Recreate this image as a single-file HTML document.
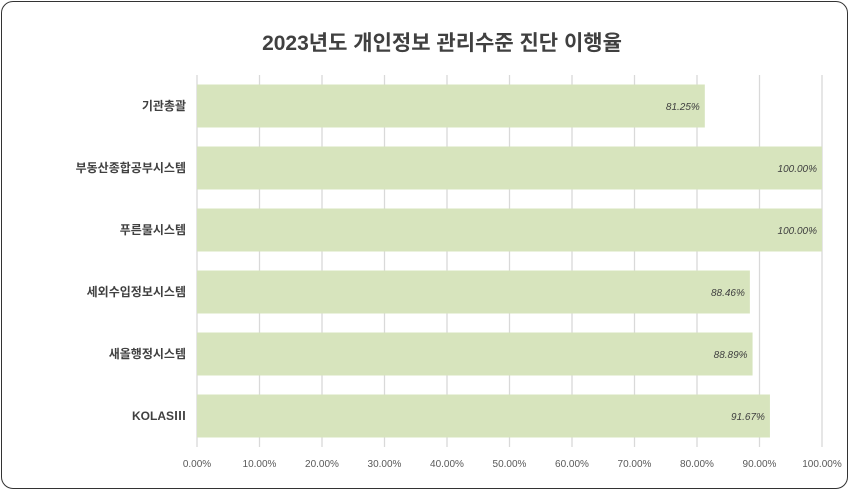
<!DOCTYPE html>
<html><head><meta charset="utf-8"><style>
body{margin:0;width:851px;height:492px;background:#fff;overflow:hidden;font-family:"Liberation Sans","Noto Sans CJK KR",sans-serif}
#frame{position:absolute;left:1px;top:1px;width:847px;height:488px;border:1px solid #333;border-radius:12px;box-sizing:border-box}
</style></head><body>
<div id="frame"></div>
<svg id="chart" width="851" height="492" style="position:absolute;left:0;top:0">
<text x="442" y="50" text-anchor="middle" font-size="21" font-weight="bold" fill="#404040" font-family="Liberation Sans, Noto Sans CJK KR, sans-serif">2023년도 개인정보 관리수준 진단 이행율</text>
</svg>
<script>
const categories=["기관총괄","부동산종합공부시스템","푸른물시스템","세외수입정보시스템","새올행정시스템","KOLASⅢ"];
const values=[81.25,100,100,88.46,88.89,91.67];
const tickLabels=["0.00%","10.00%","20.00%","30.00%","40.00%","50.00%","60.00%","70.00%","80.00%","90.00%","100.00%"];
const tickValues=[0,10,20,30,40,50,60,70,80,90,100];
const svg=document.getElementById('chart');
const NS='http://www.w3.org/2000/svg';
const x0=197,x1=822,yTop=75,yBot=447;
const xs=v=>x0+(v/100)*(x1-x0);
const band=(yBot-yTop)/categories.length;
const yc=i=>yTop+band*(i+0.5);
function mk(t,a){const e=document.createElementNS(NS,t);for(const k in a)e.setAttribute(k,a[k]);svg.appendChild(e);return e;}
tickValues.forEach((v,i)=>{
 const g=mk('line',{x1:xs(v),x2:xs(v),y1:yTop,y2:yBot,stroke:'#d9d9d9','stroke-width':1.3});
 
 
 const t=mk('text',{x:xs(v),y:467,'text-anchor':'middle','font-size':10,fill:'#595959'});
 t.textContent=tickLabels[i];
 
 
});
categories.forEach((c,i)=>{
 const h=43;
 const r=mk('rect',{x:x0,y:yc(i)-h/2,width:xs(values[i])-x0,height:h,fill:'#d7e4bd'});
 
 
 const l=mk('text',{x:186,y:yc(i)+4,'text-anchor':'end','font-size':12,'font-weight':'bold',fill:'#404040'});
 l.textContent=c;
 
 
 const v=mk('text',{x:xs(values[i])-5,y:yc(i)+4,'text-anchor':'end','font-size':10,'font-style':'italic',fill:'#404040'});
 v.textContent=values[i].toFixed(2)+'%';
 
 
});
</script>
</body></html>
